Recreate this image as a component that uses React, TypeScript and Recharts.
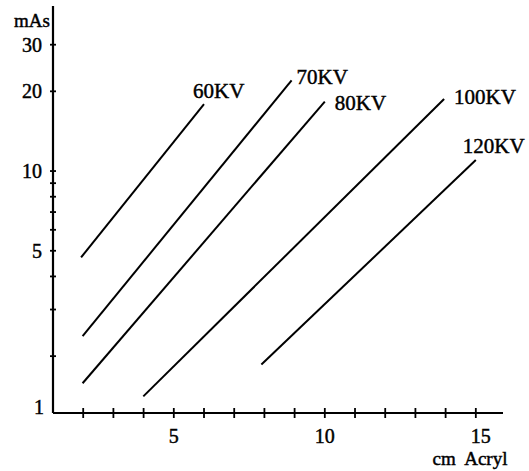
import React from 'react';
import { LineChart, Line, XAxis, YAxis } from 'recharts';

// values (x = cm Acryl, y = mAs, log scale)
const kv60 = [{ x: 1.93, y: 4.72 }, { x: 6.0, y: 17.9 }];
const kv70 = [{ x: 1.98, y: 2.38 }, { x: 8.9, y: 22.0 }];
const kv80 = [{ x: 1.98, y: 1.58 }, { x: 10.0, y: 18.3 }];
const kv100 = [{ x: 3.99, y: 1.41 }, { x: 13.95, y: 18.7 }];
const kv120 = [{ x: 7.9, y: 1.86 }, { x: 15.0, y: 11.0 }];

const seriesNames = ['60KV', '70KV', '80KV', '100KV', '120KV'];

const xTicks = [2, 3, 4, 5, 6, 7, 8, 9, 10, 11, 12, 13, 14, 15];
const xLabelled = [5, 10, 15];
const yMin = 1.22;
const yMax = 42;
const yTicks = [yMin, 2, 3, 4, 5, 6, 7, 8, 9, 10, 20, 30];
const yLabelled = [5, 10, 20, 30];
const originLabel = '1';

const series = [kv60, kv70, kv80, kv100, kv120];
// label offsets relative to each line's top end
const labelPos = [
  { dx: -11, dy: -13 },
  { dx: 5, dy: -3 },
  { dx: 10, dy: 1 },
  { dx: 10, dy: -2 },
  { dx: -13, dy: -14 },
];

const font = '"Liberation Serif", "DejaVu Serif", serif';
const textStyle = { fontFamily: font, fill: '#000', stroke: '#000', strokeWidth: 0.45 };

const XTick = (props: any) => {
  const { x, y, payload } = props;
  const v = payload.value;
  return (
    <g>
      <line x1={x} x2={x} y1={y - 5} y2={y + 5} stroke="#000" strokeWidth={1.8} />
      {xLabelled.includes(v) && (
        <text x={x + (v === 15 ? 5 : 0)} y={y + 30} textAnchor="middle" fontSize={20} style={textStyle}>
          {v}
        </text>
      )}
    </g>
  );
};

const YTick = (props: any) => {
  const { x, y, payload } = props;
  const v = payload.value;
  if (v === yMin) {
    return (
      <text x={x - 9} y={y + 1} textAnchor="end" fontSize={20} style={textStyle}>
        {originLabel}
      </text>
    );
  }
  return (
    <g>
      <line x1={x - 3} x2={x + 3} y1={y} y2={y} stroke="#000" strokeWidth={1.8} />
      {yLabelled.includes(v) && (
        <text x={x - 11} y={y + 7} textAnchor="end" fontSize={20} style={textStyle}>
          {v}
        </text>
      )}
    </g>
  );
};

const makeLabel = (i: number) => (props: any) => {
  const { x, y, index } = props;
  if (index !== series[i].length - 1) return null;
  const p = labelPos[i];
  return (
    <text key={i} x={x + p.dx} y={y + p.dy + 7} textAnchor="start" fontSize={21} style={textStyle}>
      {seriesNames[i]}
    </text>
  );
};

export default function App() {
  return (
    <div style={{ position: 'absolute', left: 0, top: 0, background: '#fff' }}>
      <LineChart width={529} height={471} margin={{ top: 6, right: 26, bottom: 0, left: 0 }}>
        <XAxis
          type="number"
          dataKey="x"
          domain={[1, 15.9]}
          ticks={xTicks}
          allowDataOverflow
          tick={<XTick />}
          tickLine={false}
          tickSize={0}
          tickMargin={0}
          height={58}
          axisLine={{ stroke: '#000', strokeWidth: 1.8 }}
          interval={0}
        />
        <YAxis
          type="number"
          dataKey="y"
          scale="log"
          domain={[yMin, yMax]}
          ticks={yTicks}
          allowDataOverflow
          tick={<YTick />}
          tickLine={false}
          tickSize={0}
          tickMargin={0}
          width={53}
          axisLine={{ stroke: '#000', strokeWidth: 2.2 }}
          interval={0}
        />
        {series.map((d, i) => (
          <Line
            key={seriesNames[i]}
            data={d}
            dataKey="y"
            type="linear"
            stroke="#000"
            strokeWidth={2}
            dot={false}
            isAnimationActive={false}
            label={makeLabel(i)}
          />
        ))}
        <text x={50} y={27} textAnchor="end" fontSize={19} style={textStyle}>mAs</text>
        <text x={470} y={465} textAnchor="middle" fontSize={19} style={{ ...textStyle, whiteSpace: 'pre' }}>cm  Acryl</text>
      </LineChart>
    </div>
  );
}
